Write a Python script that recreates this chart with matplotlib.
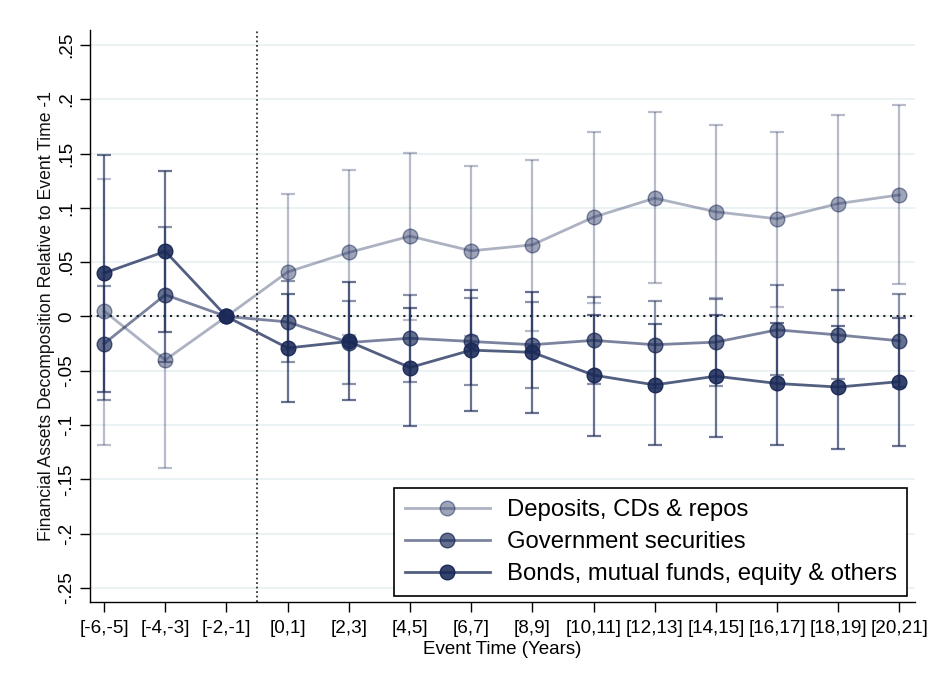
import matplotlib
matplotlib.use("Agg")
import matplotlib.pyplot as plt
import numpy as np
from matplotlib.lines import Line2D

plt.rcParams['font.family'] = ['Liberation Sans', 'DejaVu Sans']

categories = ["[-6,-5]", "[-4,-3]", "[-2,-1]", "[0,1]", "[2,3]", "[4,5]", "[6,7]",
              "[8,9]", "[10,11]", "[12,13]", "[14,15]", "[16,17]", "[18,19]", "[20,21]"]

dep = [0.005, -0.040, 0, 0.041, 0.059, 0.074, 0.0605, 0.066, 0.0915, 0.109, 0.0964, 0.090, 0.104, 0.112]
dep_lo = [-0.118, -0.140, 0, -0.031, -0.017, -0.003, -0.018, -0.013, 0.0126, 0.031, 0.017, 0.0092, 0.0245, 0.030]
dep_hi = [0.127, 0.060, 0, 0.113, 0.135, 0.151, 0.139, 0.144, 0.170, 0.188, 0.1765, 0.170, 0.1854, 0.195]

gov = [-0.025, 0.020, 0, -0.005, -0.024, -0.020, -0.023, -0.026, -0.022, -0.026, -0.0236, -0.0123, -0.017, -0.0224]
gov_lo = [-0.077, -0.042, 0, -0.042, -0.062, -0.060, -0.063, -0.066, -0.062, -0.066, -0.064, -0.054, -0.058, -0.065]
gov_hi = [0.028, 0.082, 0, 0.033, 0.0147, 0.0196, 0.0172, 0.0135, 0.0184, 0.014, 0.0164, 0.029, 0.024, 0.0206]

bon = [0.040, 0.060, 0, -0.029, -0.023, -0.047, -0.031, -0.033, -0.054, -0.063, -0.055, -0.0617, -0.065, -0.060]
bon_lo = [-0.070, -0.014, 0, -0.079, -0.077, -0.101, -0.087, -0.089, -0.110, -0.118, -0.111, -0.118, -0.122, -0.119]
bon_hi = [0.149, 0.134, 0, 0.021, 0.032, 0.0074, 0.0245, 0.0227, 0.0016, -0.007, 0.001, -0.0057, -0.0085, -0.0015]

labels = ["Deposits, CDs & repos", "Government securities", "Bonds, mutual funds, equity & others"]
yticks = [0.25, 0.2, 0.15, 0.1, 0.05, 0, -0.05, -0.1, -0.15, -0.2, -0.25]
ytick_labels = [".25", ".2", ".15", ".1", ".05", "0", "-.05", "-.1", "-.15", "-.2", "-.25"]

fig = plt.figure(figsize=(9.34, 6.77), dpi=100)
ax = fig.add_axes([0.0964, 0.1108, 0.8836, 0.845])

x = np.arange(len(categories))
navy = (0.10, 0.16, 0.34)
series = [(dep, dep_lo, dep_hi, 0.42), (gov, gov_lo, gov_hi, 0.68), (bon, bon_lo, bon_hi, 0.88)]

for yv, lo, hi, a in series:
    yv = np.array(yv); lo = np.array(lo); hi = np.array(hi)
    col = navy + (a,)
    mask = hi != lo
    ax.errorbar(x[mask], yv[mask], yerr=[yv[mask] - lo[mask], hi[mask] - yv[mask]],
                fmt='none', ecolor=navy + (a * 0.75,), elinewidth=1.6, capsize=5, capthick=1.6, zorder=3)
    ax.plot(x, yv, '-', color=navy + (a * 0.85,), lw=2.0, zorder=4)
    ax.plot(x, yv, 'o', ms=10.5, markerfacecolor=col, markeredgecolor=navy + (min(1, a + 0.1),),
            markeredgewidth=1.0, ls='none', zorder=5)

ax.axhline(0, color='#222222', lw=1.5, ls=(0, (1, 2.2)), zorder=2)
ax.axvline(2.5, color='#333333', lw=1.3, ls=(0, (1, 1.5)), zorder=2)

ax.set_ylim(-0.263, 0.264)
ax.set_xlim(-0.23, 13.26)
ax.set_yticks(yticks)
ax.set_yticklabels(ytick_labels, rotation=90, va='center')
ax.set_xticks(x)
ax.set_xticklabels(categories)
ax.grid(axis='y', color='#e8f0f2', lw=1.2, zorder=0)
ax.set_axisbelow(True)
for s in ['top', 'right']:
    ax.spines[s].set_visible(False)
for s in ['left', 'bottom']:
    ax.spines[s].set_color('#000000')
    ax.spines[s].set_linewidth(1.0)
ax.tick_params(axis='both', labelsize=13.6, length=7, width=1.0, color='black')
ax.tick_params(axis='x', pad=6)
ax.tick_params(axis='y', pad=4)

ax.set_ylabel("Financial Assets Decomposition Relative to Event Time -1", fontsize=12.7, color='#111111', labelpad=2)
ax.set_xlabel("Event Time (Years)", fontsize=13.5, labelpad=3)

handles = []
for (yv, lo, hi, a) in series:
    handles.append(Line2D([0], [0], color=navy + (a * 0.85,), lw=2.0, marker='o', ms=10.5,
                          markerfacecolor=navy + (a,), markeredgecolor=navy + (min(1, a + 0.1),)))
leg = ax.legend(handles, labels, loc='lower right', bbox_to_anchor=(0.9903, 0.0105), fontsize=17.2,
                frameon=True, fancybox=False, edgecolor='black', framealpha=1, handlelength=3.55,
                borderpad=0.45, labelspacing=0.42, handletextpad=0.7, borderaxespad=0)
leg.get_frame().set_linewidth(1.2)

fig.savefig("out.png", dpi=100, facecolor='white')
